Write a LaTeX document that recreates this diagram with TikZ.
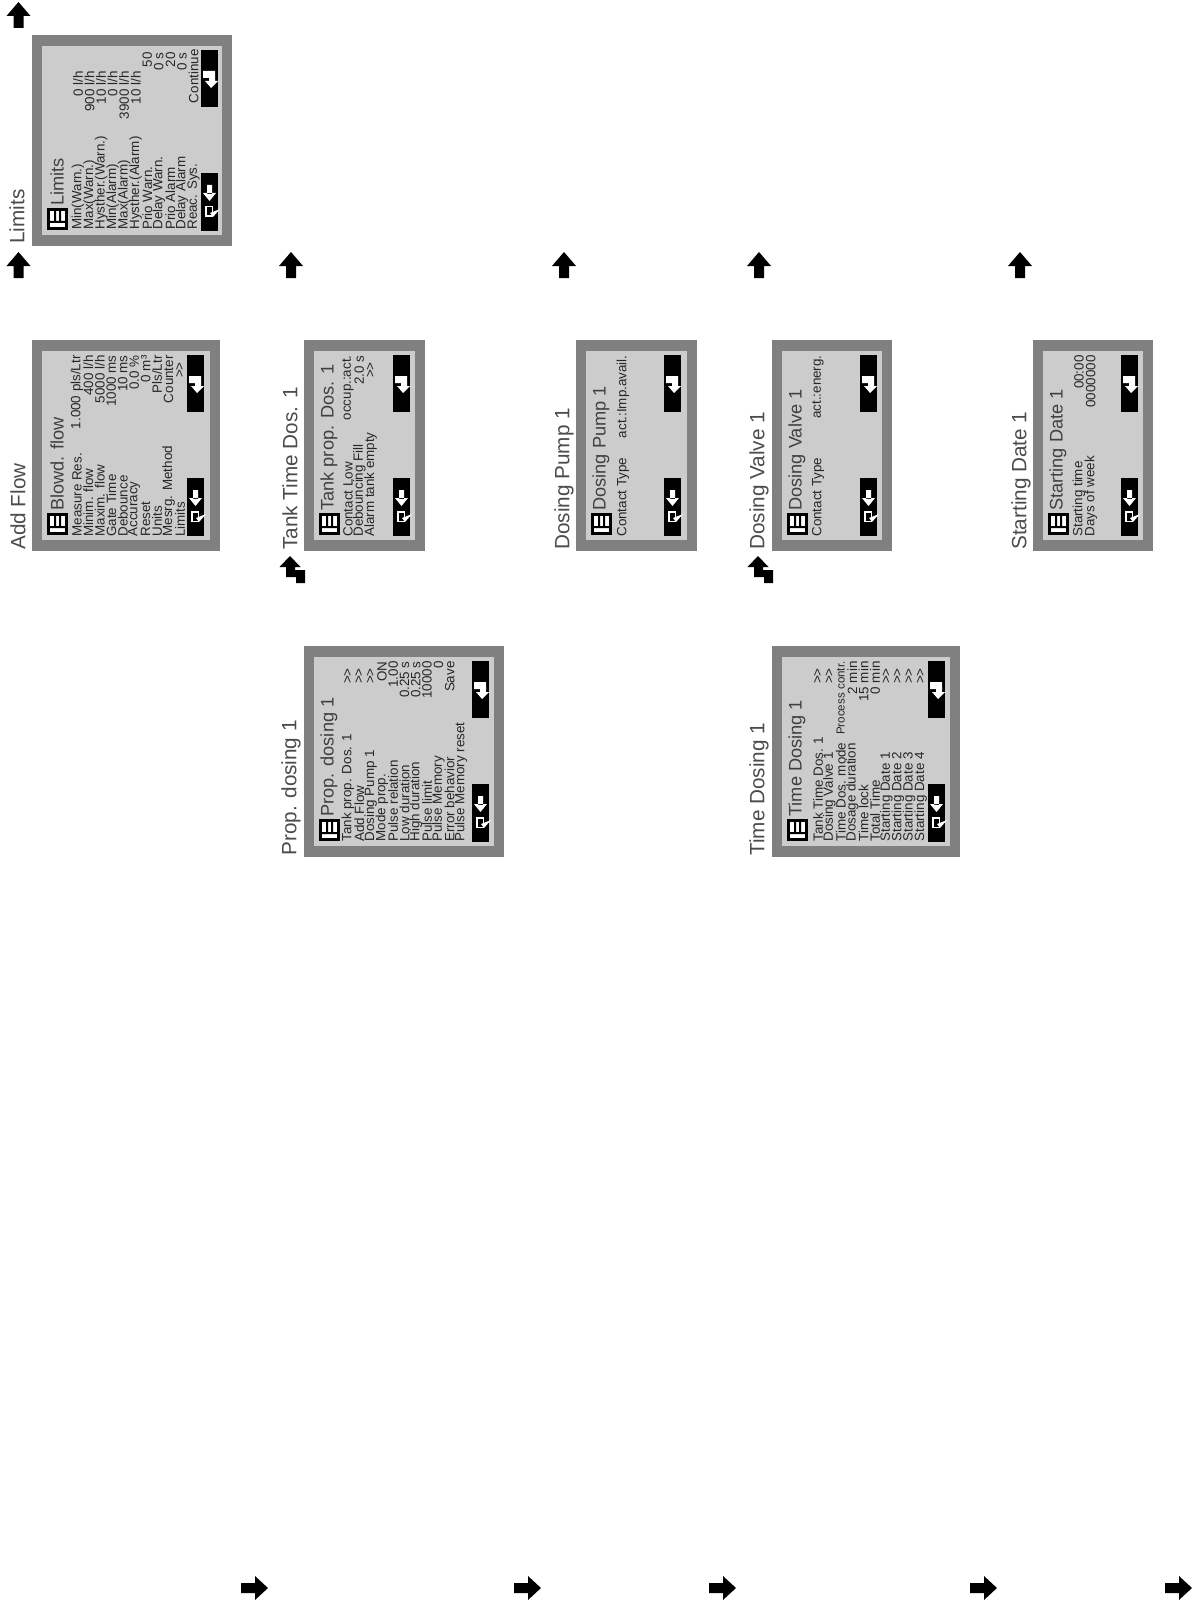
\documentclass[tikz,border=0pt]{standalone}
\usepackage{fontspec}
\setmainfont{Liberation Sans}
\newcounter{rowc}
\definecolor{framegray}{gray}{0.5}
\definecolor{lcdgray}{gray}{0.8}
\newcommand{\more}{>\kern-0.3pt>}
\tikzset{
  x=0.5pt,y=-0.5pt,
  frame/.style={fill=framegray,draw=none},
  lcd/.style={fill=lcdgray,draw=none},
  softkey/.style={fill=black,draw=none},
  lcdrow/.style={rotate=90,inner sep=0pt,font=\fontsize{6.7pt}{7pt}\selectfont,text=black!85},
  lcdtitle/.style={rotate=90,inner sep=0pt,anchor=west,font=\fontsize{9.1pt}{10pt}\selectfont,text=black!75},
  caption/.style={rotate=90,inner sep=0pt,anchor=west,font=\fontsize{10.35pt}{11pt}\selectfont,text=black!70},
  marker/.style={fill=black,draw=none},
}
% \panel{name}{x0}{x1}{ytop}{ybottom}{softkey x}{title}
\newcommand{\panel}[7]{%
  \def\pname{#1}%
  \setcounter{rowc}{0}%
  \fill[frame] (#2,#4) rectangle (#3,#5);
  \fill[lcd] ({#2+10},{#4+11}) rectangle ({#3-10},{#5-11});
  \fill[softkey] (#6,{#4+15}) rectangle ({#6+17},{#4+72});
  \fill[softkey] (#6,{#5-73}) rectangle ({#6+17},{#5-15});
  \begin{scope}[shift={(#6,{#4+15})}]
    \fill[white] (2,21) -- (14,21) -- (14,31) -- (17,31) -- (10,38) -- (4,31) -- (8,31) -- (8,28) -- (2,28) -- cycle;
  \end{scope}
  \begin{scope}[shift={(#6,{#5-73})}]
    \fill[white] (6,12) rectangle (11,21) (2,20) -- (15,20) -- (8.5,28) -- cycle;
    \fill[white] (4,33) rectangle (12,44);
    \fill[black] (5.5,34.5) rectangle (10.5,42.5);
    \fill[white] (9,40) -- (19,36) -- (12,44) -- cycle;
  \end{scope}
  \begin{scope}[shift={({#2+15},{#5-38})}]
    \fill[black] (0,0) rectangle (21,22);
    \fill[white] (3,3) rectangle (18,19);
    \fill[black] (7,3) rectangle (9,14) (12,3) rectangle (14,14) (3,13) rectangle (18,15);
  \end{scope}
  \node[lcdtitle] (#1-title) at ({#2+25},{#5-40}) {#7};
}
% \startrows{x of the first row}{pitch}{y of left edge}
\newcommand{\startrows}[3]{\def\rxa{#1}\def\rpitch{#2}\def\rleft{#3}}
% \rowline{label}{value}{y of right edge for the value}
\newcommand{\rowline}[3]{%
  \pgfmathsetmacro{\rxpos}{\rxa+\rpitch*\value{rowc}}%
  \stepcounter{rowc}%
  \node[lcdrow,anchor=west] (\pname-l\therowc) at (\rxpos,\rleft) {#1};
  \node[lcdrow,anchor=east] (\pname-v\therowc) at (\rxpos,#3) {#2};
}
\newcommand{\upmark}[3]{%
  \coordinate (#1) at (#2,#3);
  \fill[marker] (#2,{#3-13}) -- ({#2+12},{#3+1}) -- ({#2+5},{#3+1}) -- ({#2+5},{#3+13}) -- ({#2-5},{#3+13}) -- ({#2-5},{#3+1}) -- ({#2-12},{#3+1}) -- cycle;
}
\newcommand{\rightmarker}[3]{%
  \coordinate (#1) at (#2,#3);
  \fill[marker] ({#2+14},#3) -- ({#2+1},{#3+12}) -- ({#2+1},{#3+5}) -- ({#2-13},{#3+5}) -- ({#2-13},{#3-5}) -- ({#2+1},{#3-5}) -- ({#2+1},{#3-12}) -- cycle;
}
\newcommand{\stepmark}[3]{%
  \coordinate (#1) at (#2,#3);
  \fill[marker] (#2,#3) -- ({#2+10.5},{#3+11}) -- ({#2+5},{#3+11}) -- ({#2+5},{#3+14}) -- ({#2+15},{#3+14}) -- ({#2+15},{#3+27}) -- ({#2+6},{#3+27}) -- ({#2+6},{#3+21}) -- ({#2-4},{#3+21}) -- ({#2-4},{#3+11}) -- ({#2-10.5},{#3+11}) -- cycle;
}
\begin{document}
\begin{tikzpicture}
\useasboundingbox[fill=white] (0,0) rectangle (1192,1605);

% ---- Limits
\panel{limits}{32}{232}{35}{246}{201}{Limits}
\startrows{78}{11.55}{230}
\rowline{Min(Warn.)}{0 l/h}{71}
\rowline{Max(Warn.)}{900 l/h}{71}
\rowline{Hysther.(Warn.)}{10 l/h}{71}
\rowline{Min(Alarm)}{0 l/h}{71}
\rowline{Max(Alarm)}{3900 l/h}{71}
\rowline{Hysther.(Alarm)}{10 l/h}{71}
\rowline{Prio Warn.}{50}{52}
\rowline{Delay Warn.}{0 s}{52}
\rowline{Prio Alarm}{20}{52}
\rowline{Delay Alarm}{0 s}{52}
\rowline{Reac. Sys.}{Continue}{49}
\node[caption] (limits-cap) at (17,244) {Limits};
\upmark{u0}{18.5}{15}
\upmark{u1}{18.5}{265}

% ---- Add flow
\panel{add}{32}{220}{340}{551}{187}{Blowd. flow}
\startrows{77}{11.45}{537}
\rowline{Measure Res.}{1.000 pls/Ltr}{355}
\rowline{Minim. flow}{400 l/h}{355}
\rowline{Maxim. flow}{5000 l/h}{355}
\rowline{Gate Time}{1000 ms}{355}
\rowline{Debounce}{10 ms}{355}
\rowline{Accuracy}{0.0 \%}{355}
\rowline{Reset}{0 m³}{355}
\rowline{Units}{Pls/Ltr}{355}
\rowline{Mesrg. Method}{Counter}{355}
\rowline{Limits}{\more}{362}
\node[caption] (add-cap) at (18,550) {Add Flow};

% ---- Tank
\panel{tank}{304}{425}{340}{551}{393}{Tank prop. Dos. 1}
\startrows{348}{11.3}{537}
\rowline{Contact Low}{occup.:act.}{355}
\rowline{Debouncing Fill}{2.0 s}{355}
\rowline{Alarm tank empty}{\more}{362}
\node[caption] (tank-cap) at (290,550) {Tank Time Dos. 1};
\upmark{u2}{291}{265}
\stepmark{s2}{290}{556}

% ---- Prop dosing
\panel{prop}{304}{504}{646}{857}{472}{Prop. dosing 1}
\startrows{348}{11.3}{842}
\rowline{Tank prop. Dos. 1}{\more}{668}
\rowline{Add Flow}{\more}{668}
\rowline{Dosing Pump 1}{\more}{668}
\rowline{Mode prop.}{ON}{661}
\rowline{Pulse relation}{1.00}{661}
\rowline{Low duration}{0.25 s}{661}
\rowline{High duration}{0.25 s}{661}
\rowline{Pulse limit}{10000}{661}
\rowline{Pulse Memory}{0}{661}
\rowline{Error behavior}{Save}{661}
\rowline{Pulse Memory reset}{}{661}
\node[caption] (prop-cap) at (291,856) {Prop. dosing 1};

% ---- Pump
\panel{pump}{576}{697}{340}{551}{664}{Dosing Pump 1}
\startrows{623}{11.5}{537}
\rowline{Contact Type}{act.:Imp.avail.}{355}
\node[caption] (pump-cap) at (564,550) {Dosing Pump 1};
\upmark{u3}{564}{265}

% ---- Valve
\panel{valve}{772}{892}{340}{551}{860}{Dosing Valve 1}
\startrows{818}{11.5}{537}
\rowline{Contact Type}{act.:energ.}{355}
\node[caption] (valve-cap) at (759,550) {Dosing Valve 1};
\upmark{u4}{759}{265}
\stepmark{s4}{758}{556}

% ---- Time dosing
\panel{time}{772}{960}{646}{857}{928}{Time Dosing 1}
\startrows{818}{11.4}{842}
\rowline{Tank Time Dos. 1}{\more}{668}
\rowline{Dosing Valve 1}{\more}{668}
\rowline{Time Dos. mode}{\fontsize{5.8pt}{7pt}\selectfont Process contr.}{661}
\rowline{Dosage duration}{2 min}{661}
\rowline{Time lock}{15 min}{661}
\rowline{Total Time}{0 min}{661}
\rowline{Starting Date 1}{\more}{668}
\rowline{Starting Date 2}{\more}{668}
\rowline{Starting Date 3}{\more}{668}
\rowline{Starting Date 4}{\more}{668}
\node[caption] (time-cap) at (759,856) {Time Dosing 1};

% ---- Starting date
\panel{start}{1033}{1153}{340}{551}{1121}{Starting Date 1}
\startrows{1079}{11.8}{537}
\rowline{Starting time}{00:00}{355}
\rowline{Days of week}{0000000}{355}
\node[caption] (start-cap) at (1021,550) {Starting Date 1};
\upmark{u5}{1020}{265}

% ---- Right markers along the bottom
\rightmarker{r1}{254}{1588}
\rightmarker{r2}{527}{1588}
\rightmarker{r3}{722}{1588}
\rightmarker{r4}{983}{1588}
\rightmarker{r5}{1178}{1588}
\end{tikzpicture}
\end{document}
